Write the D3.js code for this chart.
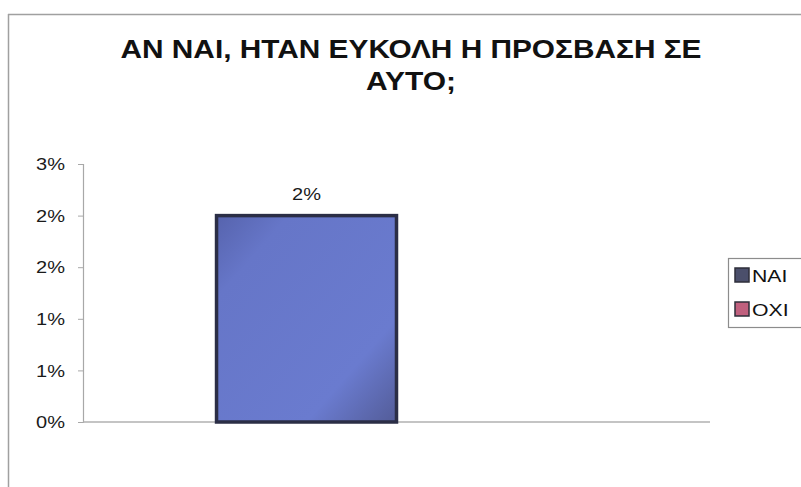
<!DOCTYPE html>
<html>
<head>
<meta charset="utf-8">
<script src="https://cdn.jsdelivr.net/npm/d3@7"></script>
<style>
  body { margin: 0; background: #fff; }
  svg { display: block; font-family: "Liberation Sans", Arial, sans-serif; }
</style>
</head>
<body>
<div id="chart"></div>
<script>
var width = 801;
var height = 487;

// data
var titleLines = ["ΑΝ ΝΑΙ, ΗΤΑΝ ΕΥΚΟΛΗ Η ΠΡΟΣΒΑΣΗ ΣΕ", "ΑΥΤΟ;"];
var categories = [""];
var seriesNames = ["ΝΑΙ", "ΟΧΙ"];
var seriesValues = [0.02, 0];
var barLabels = ["2%", ""];
var yTickValues = [0, 0.005, 0.01, 0.015, 0.02, 0.025];
var yTickLabels = ["0%", "1%", "1%", "2%", "2%", "3%"];
var legendColors = ["#4b4f6b", "#c0607e"];

// the scanned original is stretched sideways, so text gets widened a bit
var stretch = 1.25;

var svg = d3.select("#chart").append("svg")
    .attr("width", width)
    .attr("height", height);

var defs = svg.append("defs");
var grad = defs.append("linearGradient")
    .attr("id", "barGrad")
    .attr("x1", "0%").attr("y1", "0%")
    .attr("x2", "100%").attr("y2", "100%");
grad.append("stop").attr("offset", "0%").attr("stop-color", "#5663ad");
grad.append("stop").attr("offset", "20%").attr("stop-color", "#6676c8");
grad.append("stop").attr("offset", "75%").attr("stop-color", "#6a7bcf");
grad.append("stop").attr("offset", "100%").attr("stop-color", "#535c98");

// chart border (top + left)
svg.append("line")
    .attr("x1", 8).attr("x2", width).attr("y1", 14.5).attr("y2", 14.5)
    .attr("stroke", "#a0a0a0").attr("stroke-width", 1.5);
svg.append("line")
    .attr("x1", 8.5).attr("x2", 8.5).attr("y1", 14).attr("y2", height)
    .attr("stroke", "#a0a0a0").attr("stroke-width", 1.5);

// title
var titleWidths = [581, 90];
svg.append("g").selectAll("text")
    .data(titleLines)
    .enter().append("text")
    .attr("x", 411)
    .attr("y", (d, i) => 58 + i * 32)
    .attr("text-anchor", "middle")
    .attr("font-size", 25)
    .attr("font-weight", "bold")
    .attr("fill", "#111")
    .attr("textLength", (d, i) => titleWidths[i])
    .attr("lengthAdjust", "spacingAndGlyphs")
    .text(d => d);

// scales
var y = d3.scaleLinear().domain([0, 0.025]).range([422, 164]);
var x0 = d3.scaleBand().domain(categories).range([83, 710]);
var x1 = d3.scaleBand().domain(seriesNames)
    .range([0, x0.bandwidth()])
    .paddingInner(0).paddingOuter(0.742);

// y axis
var yAxis = d3.axisLeft(y)
    .tickValues(yTickValues)
    .tickFormat((d, i) => yTickLabels[i])
    .tickSize(5)
    .tickPadding(13);
var gy = svg.append("g")
    .attr("transform", "translate(83,0)")
    .call(yAxis);
gy.select(".domain").attr("stroke", "#a8a8a8").attr("stroke-width", 1.2);
gy.selectAll(".tick line").attr("stroke", "#a8a8a8");
gy.selectAll(".tick text")
    .attr("font-size", 16)
    .attr("font-family", "Liberation Sans, Arial, sans-serif")
    .attr("fill", "#1a1a1a")
    .attr("dy", "0.36em")
    .each(function() {
        var t = d3.select(this);
        t.attr("textLength", this.getComputedTextLength() * stretch)
         .attr("lengthAdjust", "spacingAndGlyphs");
    });

// baseline
svg.append("line")
    .attr("x1", 83).attr("x2", 710)
    .attr("y1", y(0)).attr("y2", y(0))
    .attr("stroke", "#b0b0b0").attr("stroke-width", 1.5);

// bars
var bars = svg.append("g").selectAll("g")
    .data(categories)
    .enter().append("g")
    .attr("transform", d => "translate(" + x0(d) + ",0)");

bars.selectAll("rect")
    .data(seriesNames.map((s, i) => ({ name: s, value: seriesValues[i] })))
    .enter().filter(d => d.value > 0).append("rect")
    .attr("x", d => x1(d.name))
    .attr("y", d => y(d.value))
    .attr("width", x1.bandwidth())
    .attr("height", d => y(0) - y(d.value))
    .attr("fill", "url(#barGrad)")
    .attr("stroke", "#2b2e46")
    .attr("stroke-width", 3.5);

bars.selectAll("text.lbl")
    .data(seriesNames.map((s, i) => ({ name: s, value: seriesValues[i], label: barLabels[i] })))
    .enter().append("text")
    .attr("class", "lbl")
    .attr("x", d => x1(d.name) + x1.bandwidth() / 2)
    .attr("y", d => y(d.value) - 16)
    .attr("text-anchor", "middle")
    .attr("font-size", 16)
    .attr("fill", "#1a1a1a")
    .text(d => d.label)
    .each(function() {
        if (!this.textContent) return;
        d3.select(this)
            .attr("textLength", this.getComputedTextLength() * stretch)
            .attr("lengthAdjust", "spacingAndGlyphs");
    });

// legend
var legend = svg.append("g").attr("transform", "translate(728,258)");
legend.append("rect")
    .attr("x", 0.5).attr("y", 0.5)
    .attr("width", 90).attr("height", 69)
    .attr("fill", "#fff")
    .attr("stroke", "#8c8c8c").attr("stroke-width", 1.2);
var items = legend.selectAll("g.item")
    .data(seriesNames)
    .enter().append("g")
    .attr("class", "item")
    .attr("transform", (d, i) => "translate(7," + (10 + i * 34) + ")");
items.append("rect")
    .attr("width", 14).attr("height", 14)
    .attr("fill", (d, i) => legendColors[i])
    .attr("stroke", "#2e2e3a").attr("stroke-width", 1.5);
items.append("text")
    .attr("x", 17).attr("y", 14)
    .attr("font-size", 17)
    .attr("fill", "#111")
    .text(d => d)
    .each(function() {
        d3.select(this)
            .attr("textLength", this.getComputedTextLength() * stretch)
            .attr("lengthAdjust", "spacingAndGlyphs");
    });
</script>
</body>
</html>
